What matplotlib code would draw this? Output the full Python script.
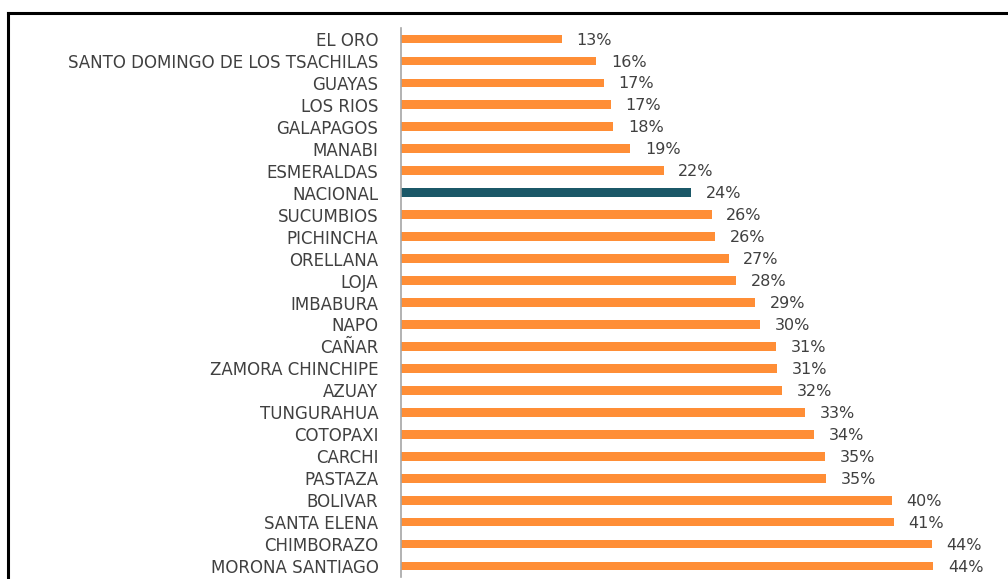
import matplotlib.pyplot as plt
from matplotlib.lines import Line2D

plt.rcParams["font.family"] = "DejaVu Sans"

provincias = ["EL ORO", "SANTO DOMINGO DE LOS TSACHILAS", "GUAYAS", "LOS RIOS",
              "GALAPAGOS", "MANABI", "ESMERALDAS", "NACIONAL", "SUCUMBIOS",
              "PICHINCHA", "ORELLANA", "LOJA", "IMBABURA", "NAPO", "CAÑAR",
              "ZAMORA CHINCHIPE", "AZUAY", "TUNGURAHUA", "COTOPAXI", "CARCHI",
              "PASTAZA", "BOLIVAR", "SANTA ELENA", "CHIMBORAZO", "MORONA SANTIAGO"]
valores = [13.25, 16.1, 16.7, 17.3, 17.5, 18.9, 21.65, 23.9, 25.6, 25.9, 27.0,
           27.6, 29.2, 29.6, 30.9, 31.0, 31.4, 33.3, 34.0, 34.9, 35.0, 40.4,
           40.6, 43.7, 43.85]
etiquetas = ["13%", "16%", "17%", "17%", "18%", "19%", "22%", "24%", "26%",
             "26%", "27%", "28%", "29%", "30%", "31%", "31%", "32%", "33%",
             "34%", "35%", "35%", "40%", "41%", "44%", "44%"]

W, H = 1008, 579
fig = plt.figure(figsize=(W / 100, H / 100), dpi=100)
x0 = 400.7
ppu = 12.15  # pixeles por punto porcentual
right = 0.995
ax = fig.add_axes([x0 / W, (H - 577) / H, right - x0 / W, (577 - 28) / H])

colores = ["#1B5868" if p == "NACIONAL" else "#FF8E36" for p in provincias]
y = list(range(len(provincias)))
ax.barh(y, valores, height=0.4, color=colores)
ax.set_ylim(len(provincias) - 0.5, -0.5)
ax.set_xlim(0, (right * W - x0) / ppu)

for yi, v, t in zip(y, valores, etiquetas):
    ax.text(v + 1.2, yi + 0.05, t, va="center", ha="left", fontsize=11.5,
            color="#404040")

ax.set_yticks(y)
ax.set_yticklabels(provincias, fontsize=12, color="#404040")
ax.tick_params(axis="y", length=0, pad=16)
ax.set_xticks([])
for s in ["top", "right", "bottom"]:
    ax.spines[s].set_visible(False)
ax.spines["left"].set_color("#A6A6A6")
ax.spines["left"].set_linewidth(1.2)

# marco negro alrededor del grafico
fig.add_artist(Line2D([8 / W, 8 / W], [0, (H - 13) / H], color="black", lw=2.2,
                      transform=fig.transFigure))
fig.add_artist(Line2D([8 / W, 1], [(H - 13) / H, (H - 13) / H], color="black",
                      lw=2.2, transform=fig.transFigure))

plt.savefig("out.png", dpi=100)
